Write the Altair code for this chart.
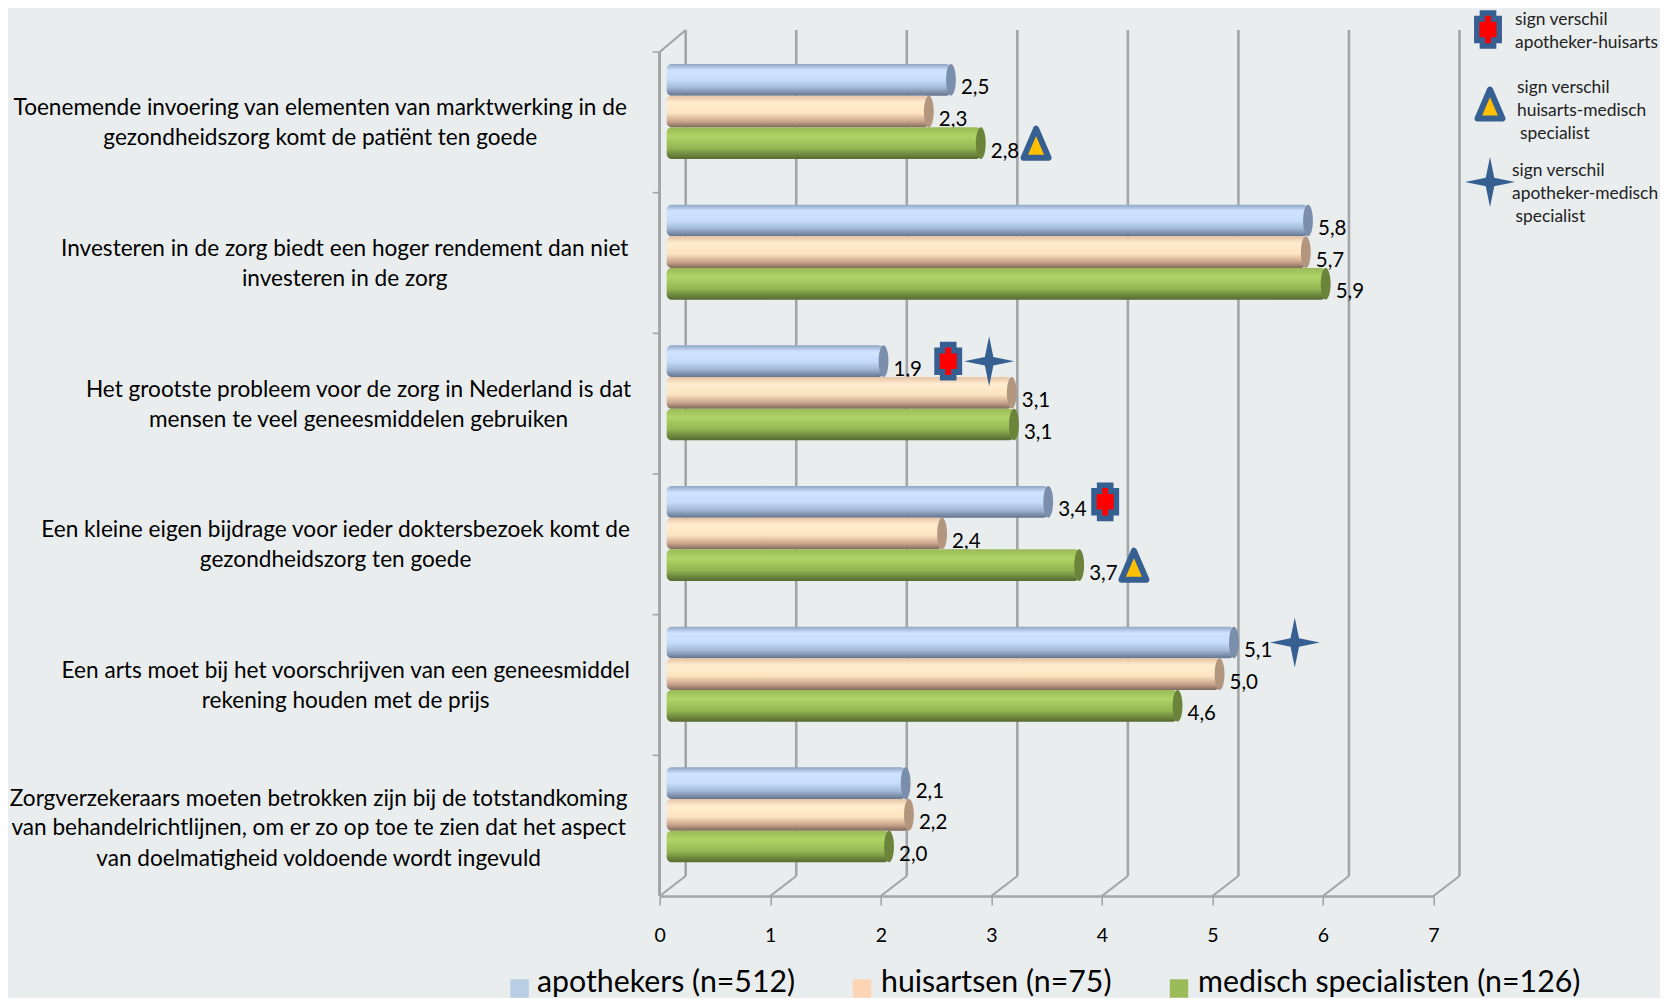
import altair as alt
import pandas as pd

# ---- data -----------------------------------------------------------------
statements = ["S1", "S2", "S3", "S4", "S5", "S6"]
statement_lines = [
    ["Toenemende invoering van elementen van marktwerking in de", "gezondheidszorg komt de patiënt ten goede"],
    ["Investeren in de zorg biedt een hoger rendement dan niet", "investeren in de zorg"],
    ["Het grootste probleem voor de zorg in Nederland is dat", "mensen te veel geneesmiddelen gebruiken"],
    ["Een kleine eigen bijdrage voor ieder doktersbezoek komt de", "gezondheidszorg ten goede"],
    ["Een arts moet bij het voorschrijven van een geneesmiddel", "rekening houden met de prijs"],
    ["Zorgverzekeraars moeten betrokken zijn bij de totstandkoming",
     "van behandelrichtlijnen, om er zo op toe te zien dat het aspect",
     "van doelmatigheid voldoende wordt ingevuld"],
]
series = ["apothekers (n=512)", "huisartsen (n=75)", "medisch specialisten (n=126)"]
# bar lengths as drawn in the picture
apothekers = [2.49, 5.72, 1.88, 3.37, 5.05, 2.08]
huisartsen = [2.29, 5.70, 3.04, 2.41, 4.92, 2.11]
specialisten = [2.76, 5.88, 3.06, 3.65, 4.54, 1.93]
# value labels as printed in the picture
apothekers_lab = ["2,5", "5,8", "1,9", "3,4", "5,1", "2,1"]
huisartsen_lab = ["2,3", "5,7", "3,1", "2,4", "5,0", "2,2"]
specialisten_lab = ["2,8", "5,9", "3,1", "3,7", "4,6", "2,0"]
x_ticks = [0, 1, 2, 3, 4, 5, 6, 7]

cross_marks = [("S3", 2.61), ("S4", 4.03)]
triangle_marks = [("S1", 3.405), ("S4", 4.29)]
star_marks = [("S3", 2.98), ("S5", 5.745)]

legend_notes = [
    ["sign verschil", "apotheker-huisarts"],
    ["sign verschil", "huisarts-medisch", " specialist"],
    ["sign verschil", "apotheker-medisch", " specialist"],
]

# ---- styling --------------------------------------------------------------
FONT = "Lato"
BG = "#e9edee"
GRID = "#a3a5a6"
NAVY = "#376092"
W, H = 773.8, 844
ORX, ORY = 659.7, 52
TOTAL_W, TOTAL_H = 1652, 990
def sx(p): return p - ORX
def sy(p): return p - ORY

gradients = {
    series[0]: [(0, "#8fa5c4"), (.2, "#cfe4ff"), (.5, "#c6ddfb"), (.75, "#a3b9d8"), (1, "#64748c")],
    series[1]: [(0, "#e6c2a4"), (.22, "#ffedd0"), (.55, "#fde4c0"), (.82, "#c9a38b"), (1, "#7d6a5c")],
    series[2]: [(0, "#9aba58"), (.28, "#afd466"), (.65, "#94b653"), (.85, "#6f8a3f"), (1, "#566a30")],
}
caps = {series[0]: "#7b8eac", series[1]: "#b3967e", series[2]: "#6b843a"}
swatches = {series[0]: "#b9cde5", series[1]: "#fcd5b5", series[2]: "#9bbb59"}

rows = []
for name, vals, labs in zip(series, [apothekers, huisartsen, specialisten],
                            [apothekers_lab, huisartsen_lab, specialisten_lab]):
    for s, v, l in zip(statements, vals, labs):
        rows.append({"stmt": s, "series": name, "value": v, "label": l})
df = pd.DataFrame(rows)

xs = alt.Scale(domain=[0, 7], range=[0, W], nice=False, zero=False)
ys = alt.Scale(domain=statements, paddingInner=0, paddingOuter=0)
yo = alt.Scale(domain=series, range=[12, 107], paddingInner=0, paddingOuter=0)
Y = alt.Y("stmt:N", scale=ys, axis=None)
YO = alt.YOffset("series:N", scale=yo)
x_axis = alt.Axis(
    values=x_ticks, format="d", tickColor=GRID, tickWidth=1.6, tickSize=9, domainColor=GRID, domainWidth=2.6,
    labelFont=FONT, labelFontSize=19.5, labelColor="#000000", labelPadding=21, labelAngle=0, grid=False,
    labelFlush=False, labelOverlap=False, title=None)
X = alt.X("value:Q", scale=xs, axis=x_axis, title=None)

layers = []
ticks_df = pd.DataFrame({"value": x_ticks})
stmt_df = pd.DataFrame({"stmt": statements})

# back wall grid lines
layers.append(alt.Chart(ticks_df).mark_rule(color=GRID, strokeWidth=2.6, xOffset=26).encode(
    x=X, y=alt.value(-22), y2=alt.value(824)))
# floor diagonals
layers.append(alt.Chart(ticks_df).mark_rule(color=GRID, strokeWidth=2.2, xOffset=0, x2Offset=26).encode(
    x=X, x2=alt.X2("value:Q"), y=alt.value(H), y2=alt.value(824)))
# top-left diagonal
layers.append(alt.Chart(pd.DataFrame({"value": [0]})).mark_rule(color=GRID, strokeWidth=2.2, xOffset=0, x2Offset=26).encode(
    x=X, x2=alt.X2("value:Q"), y=alt.value(0), y2=alt.value(-22)))
# front y axis and its ticks
layers.append(alt.Chart(stmt_df).mark_rule(color=GRID, strokeWidth=2.2).encode(
    x=alt.value(0), y=alt.value(0), y2=alt.value(H)))
layers.append(alt.Chart(stmt_df).mark_rule(color=GRID, strokeWidth=1.6).encode(
    x=alt.value(-7), x2=alt.value(0), y=alt.Y("stmt:N", scale=ys, axis=None, bandPosition=0)))
# value labels under the bars
layers.append(alt.Chart(df).mark_text(font=FONT, fontSize=20.5, color="#000000", align="left", baseline="middle",
                                      xOffset=26, dy=8.5).encode(x=X, y=Y, yOffset=YO, text="label:N"))
# cylinders
ELLIPSE = "M0,-1 A.31,1 0 0 1 0,1 A.31,1 0 0 1 0,-1 Z"
for name in series:
    sub = df[df.series == name]
    stops = [alt.GradientStop(offset=o, color=c) for o, c in gradients[name]]
    grad = alt.LinearGradient(gradient="linear", stops=stops, x1=0, x2=0, y1=0, y2=1)
    layers.append(alt.Chart(sub).mark_bar(color=grad, xOffset=16, x2Offset=7, cornerRadius=5).encode(
        x=X, x2=alt.X2("zero:Q"), y=Y, yOffset=YO).transform_calculate(zero="0"))
    layers.append(alt.Chart(sub).mark_point(shape=ELLIPSE, filled=True, fill=caps[name], stroke=None, opacity=1,
                                            size=1000, xOffset=16).encode(x=X, y=Y, yOffset=YO))

# statement texts
centers = [320.2, 344.7, 358.5, 335.6, 345.7, 318.6]
for s, lines, c in zip(statements, statement_lines, centers):
    offs = [-14, 16] if len(lines) == 2 else [-27, 2.5, 33]
    for line, o in zip(lines, offs):
        layers.append(alt.Chart(pd.DataFrame({"stmt": [s]})).mark_text(
            font=FONT, fontSize=22.6, color="#000000", align="center", baseline="middle", dy=o, text=line
        ).encode(x=alt.value(sx(c)), y=Y))

# significance markers
CROSS_OUT = "M-.43,-1 H.43 V-.71 H.72 V.71 H.43 V1 H-.43 V.71 H-.72 V-.71 H-.43 Z"
CROSS_IN = "M-.15,-.71 H.15 V-.4 H.44 V.4 H.15 V.71 H-.15 V.4 H-.44 V-.4 H-.15 Z"
TRI = "M0,-1 L.86,1 L-.86,1 Z"
STAR = "M0,-1 L.17,-.17 L1,0 L.17,.17 L0,1 L-.17,.17 L-1,0 L-.17,-.17 Z"

def marks_df(items, ser):
    return pd.DataFrame({"stmt": [a for a, _ in items], "value": [b for _, b in items], "series": ser})

for shape, color, size in [(CROSS_OUT, NAVY, 1500), (CROSS_IN, "#ff0000", 1500)]:
    layers.append(alt.Chart(marks_df(cross_marks, series[0])).mark_point(
        shape=shape, fill=color, filled=True, stroke=None, opacity=1, size=size).encode(x=X, y=Y, yOffset=YO))
layers.append(alt.Chart(marks_df(triangle_marks, series[2])).mark_point(
    shape=TRI, filled=True, fill="#ffc000", stroke=NAVY, strokeWidth=6, strokeJoin="round", opacity=1, size=841
).encode(x=X, y=Y, yOffset=YO))
layers.append(alt.Chart(marks_df(star_marks, series[0])).mark_point(
    shape=STAR, filled=True, fill=NAVY, stroke=None, opacity=1, size=2500).encode(x=X, y=Y, yOffset=YO))

# marker key, top right
one = pd.DataFrame({"a": [0]})
for shape, fill, size, px, py in [(CROSS_OUT, NAVY, 1500, 1488, 29.5), (CROSS_IN, "#ff0000", 1500, 1488, 29.5), (STAR, NAVY, 2500, 1490, 182)]:
    layers.append(alt.Chart(one).mark_point(shape=shape, filled=True, fill=fill, stroke=None, opacity=1, size=size).encode(
        x=alt.value(sx(px)), y=alt.value(sy(py))))
layers.append(alt.Chart(one).mark_point(shape=TRI, filled=True, fill="#ffc000", stroke=NAVY, strokeWidth=6, strokeJoin="round", opacity=1, size=841).encode(
    x=alt.value(sx(1490)), y=alt.value(sy(104))))
note_pos = [[(1515, 20), (1515, 43)], [(1517, 88), (1517, 111), (1520, 134)], [(1512, 171), (1512, 194), (1515.5, 217)]]
for lines, pos in zip(legend_notes, note_pos):
    for line, (px, py) in zip(lines, pos):
        layers.append(alt.Chart(one).mark_text(font=FONT, fontSize=17.4, color="#222222", align="left", baseline="middle", text=line.strip()).encode(
            x=alt.value(sx(px)), y=alt.value(sy(py))))

# series key, bottom
key_pos = [(510.6, 537), (853, 881), (1170, 1198)]
for name, (bx, tx) in zip(series, key_pos):
    layers.append(alt.Chart(one).mark_square(color=swatches[name], opacity=1, size=340).encode(
        x=alt.value(sx(bx + 9)), y=alt.value(sy(988.5))))
    layers.append(alt.Chart(one).mark_text(font=FONT, fontSize=30.3, color="#000000", align="left", baseline="middle", text=name).encode(
        x=alt.value(sx(tx)), y=alt.value(sy(983))))

chart = alt.layer(*layers).properties(
    width=W, height=H, background=BG, autosize="none",
    padding={"left": ORX - 8, "top": ORY - 8, "right": TOTAL_W - (ORX - 8) - W, "bottom": TOTAL_H - (ORY - 8) - H},
).configure_view(stroke=None)

chart.save("out.html", embed_options={"renderer": "svg", "actions": False})
